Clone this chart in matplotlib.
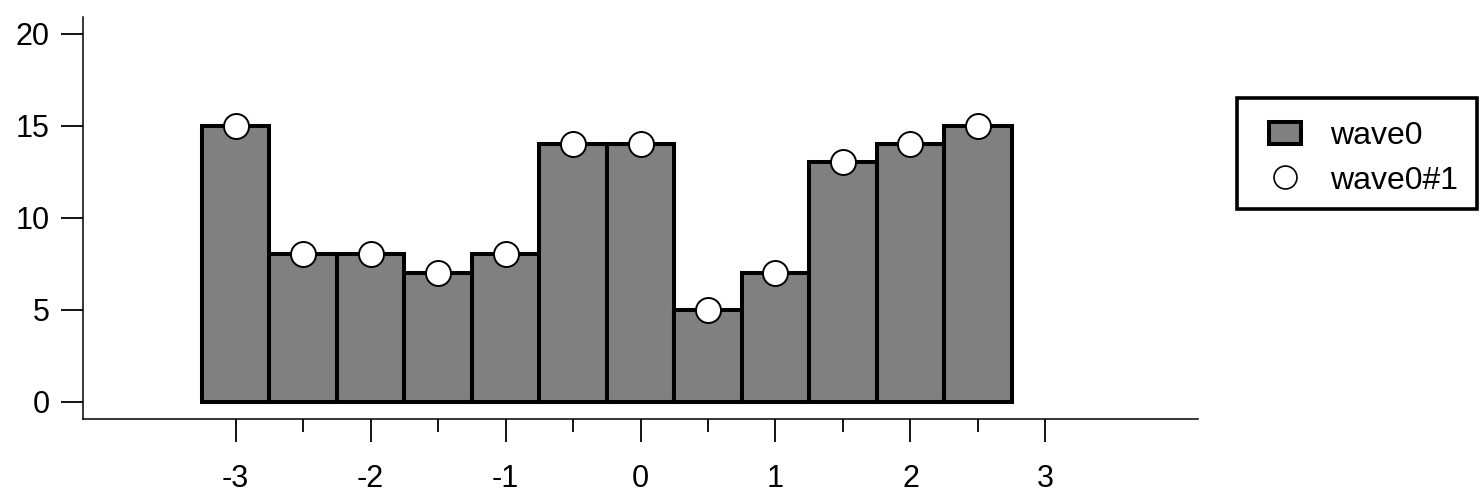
import matplotlib
matplotlib.use("Agg")
import matplotlib.pyplot as plt
from matplotlib.ticker import FixedLocator
from matplotlib.patches import Rectangle

plt.rcParams['font.family'] = ['Liberation Sans', 'DejaVu Sans']
plt.rcParams['axes.unicode_minus'] = False

x_centers = [-3.0, -2.5, -2.0, -1.5, -1.0, -0.5, 0.0, 0.5, 1.0, 1.5, 2.0, 2.5]
wave0 = [15, 8, 8, 7, 8, 14, 14, 5, 7, 13, 14, 15]
bar_width = 0.5
series_names = ["wave0", "wave0#1"]
x_major = [-3, -2, -1, 0, 1, 2, 3]
x_minor = [-2.5, -1.5, -0.5, 0.5, 1.5, 2.5]
y_major = [0, 5, 10, 15, 20]

W, H = 1483, 499
fig = plt.figure(figsize=(W/100, H/100), dpi=100)
ax = fig.add_axes([83/W, 1 - 419/H, (1198-83)/W, (419-17)/H])

bars = ax.bar(x_centers, wave0, width=bar_width, color='#808080', edgecolor='black',
              linewidth=2.9, label=series_names[0], zorder=2)
pts, = ax.plot(x_centers, wave0, linestyle='none', marker='o', markersize=18,
               markerfacecolor='white', markeredgecolor='black', markeredgewidth=1.4,
               label=series_names[1], zorder=3, clip_on=False)

ax.set_xlim(-4.13, 4.13)
ax.set_ylim(-0.95, 20.9)
ax.xaxis.set_major_locator(FixedLocator(x_major))
ax.xaxis.set_minor_locator(FixedLocator(x_minor))
ax.yaxis.set_major_locator(FixedLocator(y_major))
ax.set_xticklabels([str(v) for v in x_major])
ax.set_yticklabels([str(v) for v in y_major])

for s in ['top', 'right']:
    ax.spines[s].set_visible(False)
for s in ['left', 'bottom']:
    ax.spines[s].set_linewidth(1.1)

ax.tick_params(axis='x', which='major', direction='out', length=16.5, width=1.3,
               pad=16, labelsize=22)
ax.tick_params(axis='x', which='minor', direction='out', length=9, width=1.3)
ax.tick_params(axis='y', which='major', direction='out', length=16, width=1.3,
               pad=8, labelsize=22)

# legend frame drawn separately so horizontal and vertical padding can differ
fig.add_artist(Rectangle((1237/W, 1 - 209/H), 240/W, 111/H, transform=fig.transFigure,
                         fill=False, edgecolor='black', linewidth=2.6, zorder=5))
leg = ax.legend(handles=[bars, pts], labels=series_names,
                loc='upper left', bbox_to_anchor=(1250/W, 1 - 102/H),
                bbox_transform=fig.transFigure, fontsize=23, frameon=False,
                borderpad=0.6, handlelength=1.0, handletextpad=0.9,
                labelspacing=0.45, borderaxespad=0)
for h in leg.legend_handles:
    try:
        h.set_markersize(16.5)
        h.set_markeredgewidth(1.2)
    except Exception:
        pass

fig.savefig("out.png", dpi=100)
